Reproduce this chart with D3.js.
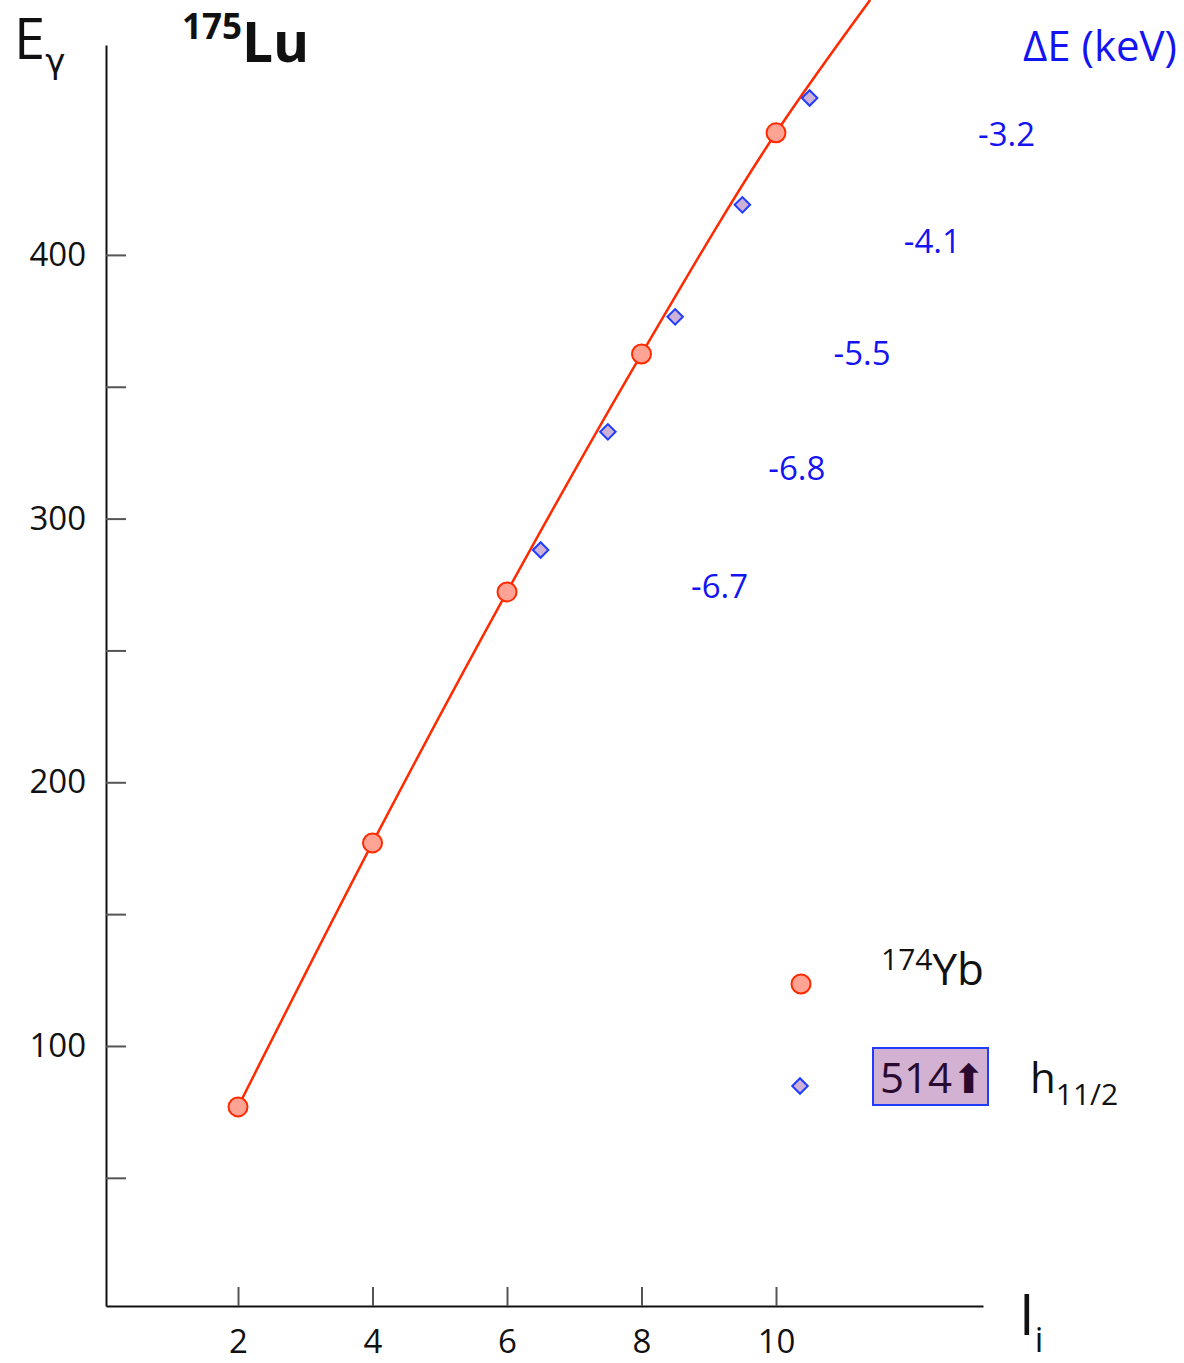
<!DOCTYPE html>
<html>
<head>
<meta charset="utf-8">
<script src="https://cdn.jsdelivr.net/npm/d3@7"></script>
<style>
  html, body { margin: 0; padding: 0; background: #fff; }
  svg { display: block; font-family: "Open Sans", "Noto Sans", sans-serif; }
</style>
</head>
<body>
<svg id="chart" width="1184" height="1363"></svg>
<script>
// Ground band of 174Yb: transition energy E_gamma (keV) vs initial spin I_i
const ybSpin = [2, 4, 6, 8, 10];
const ybEnergy = [76.9, 177.0, 272.2, 362.4, 446.3];
// The guide curve through the 174Yb points continues past the last one
const guideSpin = [2, 4, 6, 8, 10, 11.4];
const guideEnergy = [76.9, 177.0, 272.2, 362.4, 446.3, 496.7];

// 175Lu band built on the 514 h11/2 orbital
const luSpin = [6.5, 7.5, 8.5, 9.5, 10.5];
const luEnergy = [288.1, 332.9, 376.5, 419.0, 459.5];
const deltaE = ["-6.7", "-6.8", "-5.5", "-4.1", "-3.2"];

// Axis ticks
const xTicks = [2, 4, 6, 8, 10];
const yTicks = [50, 100, 150, 200, 250, 300, 350, 400];
const yTickLabels = { 100: "100", 200: "200", 300: "300", 400: "400" };

// Horizontal nudge (px) of each ΔE label from its diamond
const labelDx = [179, 189, 187, 190, 197];

const svg = d3.select("#chart");

const x = d3.scaleLinear().domain([0.037, 13.078]).range([106, 983]);
const y = d3.scaleLinear().domain([1.39, 479.6]).range([1306, 45]);

const red = "#ff2a00", salmon = "#ffa394";
const blue = "#1f3cff", lilac = "#cdb1d6";

// Axes: ticks point into the plot, labels sit outside
const xAxis = d3.axisBottom(x).tickValues(xTicks).tickSizeInner(-19).tickSizeOuter(0).tickPadding(24)
  .tickFormat(d3.format("d"));
const gx = svg.append("g").attr("transform", "translate(0,1306)").call(xAxis);

const yAxis = d3.axisLeft(y).tickValues(yTicks).tickSizeInner(-20).tickSizeOuter(0).tickPadding(20)
  .tickFormat(d => yTickLabels[d] || "");
const gy = svg.append("g").attr("transform", "translate(106,0)").call(yAxis);

[gx, gy].forEach(g => {
  g.select(".domain").attr("stroke", "#111").attr("stroke-width", 2);
  g.selectAll(".tick line").attr("stroke", "#555").attr("stroke-width", 2);
  g.selectAll(".tick text").attr("fill", "#111").attr("font-size", 33)
    .attr("font-family", "'Open Sans', sans-serif");
});

// Guide curve
const guide = guideSpin.map((s, i) => [s, guideEnergy[i]]);
svg.append("path")
  .datum(guide)
  .attr("fill", "none")
  .attr("stroke", red)
  .attr("stroke-width", 2.5)
  .attr("d", d3.line().x(d => x(d[0])).y(d => y(d[1])).curve(d3.curveMonotoneX));

// 174Yb points
svg.append("g").selectAll("circle")
  .data(ybSpin.map((s, i) => [s, ybEnergy[i]]))
  .join("circle")
  .attr("cx", d => x(d[0]))
  .attr("cy", d => y(d[1]))
  .attr("r", 9.5)
  .attr("fill", salmon)
  .attr("stroke", red)
  .attr("stroke-width", 2);

// 175Lu points (diamonds)
const diamond = d3.symbol().type(d3.symbolSquare).size(120);
const lu = luSpin.map((s, i) => ({ s, e: luEnergy[i], de: deltaE[i], dx: labelDx[i] }));
svg.append("g").selectAll("path")
  .data(lu)
  .join("path")
  .attr("d", diamond)
  .attr("transform", d => `translate(${x(d.s)},${y(d.e)}) rotate(45)`)
  .attr("fill", lilac)
  .attr("stroke", blue)
  .attr("stroke-width", 2);

// Energy differences, set off to the right of each diamond
svg.append("g").selectAll("text")
  .data(lu)
  .join("text")
  .attr("x", d => x(d.s) + d.dx)
  .attr("y", d => y(d.e) + 48)
  .attr("text-anchor", "middle")
  .attr("font-size", 33)
  .attr("fill", "#1414f0")
  .text(d => d.de);

// Titles
const ey = svg.append("text").attr("x", 14).attr("y", 59).attr("fill", "#111");
ey.append("tspan").attr("font-size", 56).text("E");
ey.append("tspan").attr("font-size", 34).attr("dy", 14)
  .attr("font-family", "'DejaVu Sans', sans-serif").text("γ");

const lu175 = svg.append("text").attr("x", 182).attr("y", 62).attr("fill", "#111").attr("font-weight", "bold");
lu175.append("tspan").attr("font-size", 35).attr("dy", -23).text("175");
lu175.append("tspan").attr("font-size", 55).attr("dy", 23).text("Lu");

svg.append("text").attr("x", 1177).attr("y", 61).attr("text-anchor", "end")
  .attr("font-size", 42).attr("fill", "#1414f0").text("ΔE (keV)");

const ii = svg.append("text").attr("x", 1019).attr("y", 1335).attr("fill", "#111");
ii.append("tspan").attr("font-size", 56).text("I");
ii.append("tspan").attr("font-size", 34).attr("dy", 17).text("i");

// Legend
svg.append("circle").attr("cx", 801).attr("cy", 984).attr("r", 9.5)
  .attr("fill", salmon).attr("stroke", red).attr("stroke-width", 2);
const yb = svg.append("text").attr("x", 881).attr("y", 985).attr("fill", "#111");
yb.append("tspan").attr("font-size", 30).attr("dy", -15).text("174");
yb.append("tspan").attr("font-size", 44).attr("dy", 15).text("Yb");

svg.append("path").attr("d", diamond)
  .attr("transform", "translate(800,1086) rotate(45)")
  .attr("fill", lilac).attr("stroke", blue).attr("stroke-width", 2);
svg.append("rect").attr("x", 873).attr("y", 1048).attr("width", 115).attr("height", 57)
  .attr("fill", "#d2b1d3").attr("stroke", blue).attr("stroke-width", 2);
const orb = svg.append("text").attr("x", 880).attr("y", 1093).attr("fill", "#2a0a2e");
orb.append("tspan").attr("font-size", 42).text("514");
orb.append("tspan").attr("font-size", 40)
  .attr("font-family", "'DejaVu Sans', sans-serif").attr("dx", 0).attr("dy", 0).text("⬆");

const h = svg.append("text").attr("x", 1030).attr("y", 1093).attr("fill", "#111");
h.append("tspan").attr("font-size", 42).text("h");
h.append("tspan").attr("font-size", 30).attr("dy", 12).text("11/2");
</script>
</body>
</html>
